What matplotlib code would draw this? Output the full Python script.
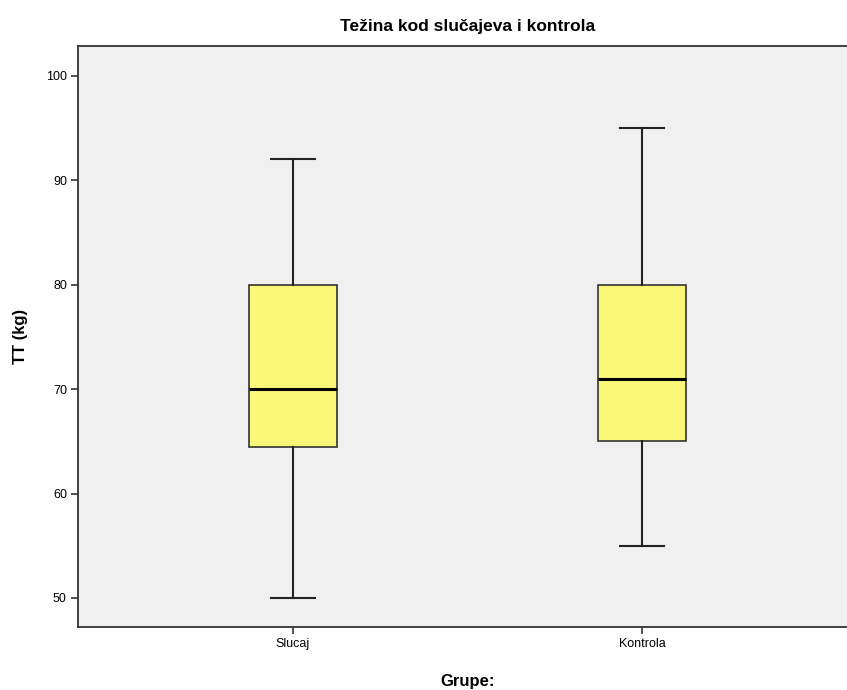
import matplotlib
matplotlib.use("Agg")
import matplotlib.pyplot as plt

# box statistics (kg)
groups = ["Slucaj", "Kontrola"]
whislo = [50, 55]
q1 = [64.5, 65]
med = [70, 71]
q3 = [80, 80]
whishi = [92, 95]

plt.rcParams['font.family'] = ['Liberation Sans', 'DejaVu Sans']

fig = plt.figure(figsize=(8.47, 6.90), dpi=100)
ax = fig.add_axes([78 / 847, 1 - 627 / 690, 779 / 847, 581 / 690])
ax.set_facecolor("#f0f0f0")

stats = []
for i, g in enumerate(groups):
    stats.append(dict(label=g, whislo=whislo[i], q1=q1[i], med=med[i],
                      q3=q3[i], whishi=whishi[i], fliers=[]))

ax.bxp(stats, positions=[1, 2], widths=0.252, patch_artist=True,
       boxprops=dict(facecolor="#faf677", edgecolor="#333333", linewidth=1.2),
       medianprops=dict(color="black", linewidth=2.2),
       whiskerprops=dict(color="#222222", linewidth=1.5),
       capprops=dict(color="#222222", linewidth=1.5),
       capwidths=0.126)

ax.set_xlim(0.384, 2.616)
ax.set_ylim(47.22, 102.87)
ax.set_yticks([50, 60, 70, 80, 90, 100])

for s in ["left", "bottom", "top", "right"]:
    ax.spines[s].set_color("#333333")
    ax.spines[s].set_linewidth(1.3)

ax.tick_params(axis="both", direction="out", length=5, width=1.2,
               color="#333333", labelsize=9, pad=3)

ax.set_title("Težina kod slučajeva i kontrola", fontsize=12.5,
             fontweight="bold", pad=11)
ax.set_ylabel("TT (kg)", fontsize=12, fontweight="bold", labelpad=13)
ax.set_xlabel("Grupe:", fontsize=12, fontweight="bold", labelpad=17)

fig.savefig("out.png", dpi=100, facecolor="white")
